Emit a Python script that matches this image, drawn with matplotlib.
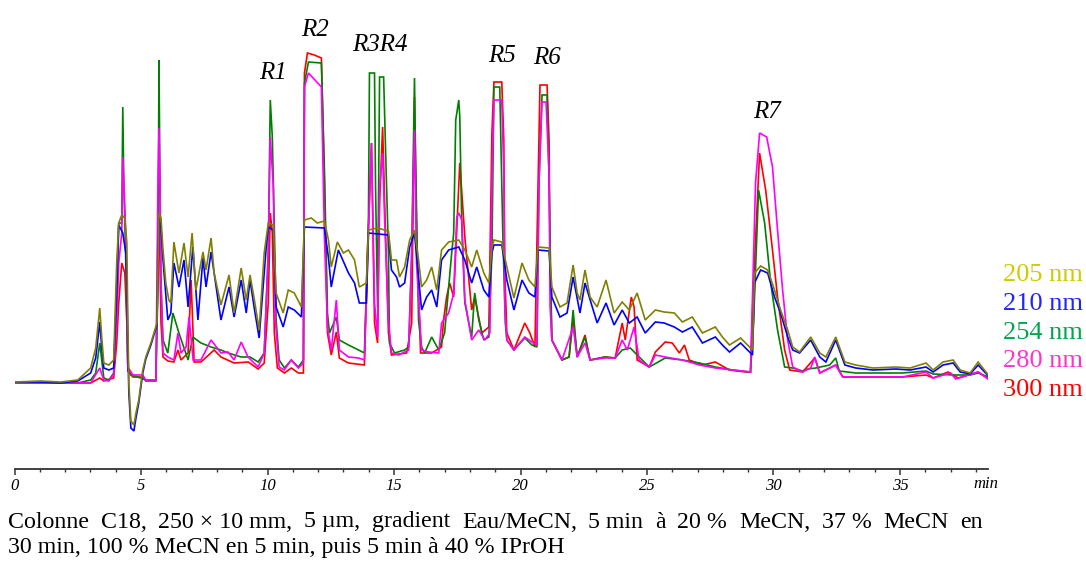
import matplotlib
matplotlib.use("Agg")
import matplotlib.pyplot as plt
from matplotlib.ticker import MultipleLocator

plt.rcParams['font.family'] = ['Liberation Serif', 'DejaVu Serif']

W, H = 1086, 561

# retention time (min), absorbance (arbitrary units, baseline = 0)
s205 = [(0.00, 1), (1.03, 2), (1.82, 1), (2.50, 3), (3.01, 15), (3.21, 35), (3.37, 75), (3.45, 45),
        (3.53, 20), (3.73, 18), (3.92, 23), (4.04, 120), (4.12, 160), (4.24, 168), (4.36, 165),
        (4.44, 140), (4.48, 60), (4.52, 0), (4.60, -38), (4.72, -42), (4.80, -30), (4.91, -17),
        (5.07, 13), (5.19, 26), (5.39, 40), (5.51, 50), (5.63, 60), (5.71, 170), (5.79, 165),
        (5.87, 133), (5.98, 100), (6.10, 83), (6.18, 80), (6.30, 141), (6.50, 110), (6.70, 140),
        (6.86, 106), (7.02, 150), (7.17, 93), (7.45, 131), (7.57, 113), (7.77, 145), (7.89, 110),
        (8.16, 78), (8.48, 108), (8.68, 70), (8.96, 115), (9.16, 83), (9.31, 108), (9.47, 85),
        (9.67, 53), (9.87, 130), (10.03, 160), (10.23, 158), (10.34, 90), (10.62, 70), (10.82, 93),
        (11.06, 90), (11.34, 76), (11.46, 163), (11.73, 165), (11.97, 160), (12.25, 162),
        (12.41, 143), (12.52, 116), (12.76, 141), (13.00, 130), (13.20, 133), (13.44, 123),
        (13.63, 96), (13.91, 100), (13.99, 153), (14.35, 155), (14.78, 152), (14.90, 123),
        (15.10, 123), (15.22, 106), (15.42, 116), (15.62, 143), (15.81, 153), (15.97, 123),
        (16.09, 96), (16.29, 103), (16.49, 116), (16.69, 93), (16.88, 133), (17.16, 141),
        (17.56, 143), (17.80, 133), (18.07, 116), (18.27, 133), (18.55, 110), (18.75, 100),
        (18.87, 135), (18.95, 143), (19.26, 141), (19.34, 130), (19.46, 116), (19.74, 85),
        (20.06, 120), (20.33, 103), (20.57, 96), (20.69, 136), (21.13, 135), (21.24, 96),
        (21.56, 76), (21.84, 80), (22.08, 118), (22.24, 90), (22.35, 83), (22.55, 113),
        (22.75, 86), (23.03, 76), (23.38, 103), (23.70, 70), (24.02, 81), (24.30, 73),
        (24.61, 90), (24.93, 63), (25.33, 73), (25.68, 71), (26.08, 70), (26.40, 61),
        (26.79, 66), (27.19, 50), (27.70, 56), (27.98, 46), (28.26, 38), (28.70, 45),
        (29.17, 33), (29.25, 110), (29.49, 117), (29.77, 113), (30.04, 93), (30.28, 73),
        (30.56, 53), (30.76, 36), (31.03, 31), (31.47, 46), (31.83, 30), (32.07, 26),
        (32.46, 46), (32.82, 21), (33.25, 18), (33.93, 15), (34.84, 16), (35.40, 15),
        (36.03, 20), (36.31, 13), (36.70, 21), (37.10, 23), (37.38, 13), (37.77, 10),
        (38.09, 21), (38.49, 8)]

s210 = [(0.00, 1), (1.03, 1), (1.82, 0), (2.50, 2), (3.01, 10), (3.21, 25), (3.37, 61), (3.45, 35),
        (3.53, 15), (3.73, 13), (3.92, 15), (4.04, 90), (4.12, 158), (4.28, 150), (4.40, 130),
        (4.44, 100), (4.48, 40), (4.52, -10), (4.60, -45), (4.72, -48), (4.80, -35), (4.91, -20),
        (5.07, 10), (5.19, 24), (5.39, 38), (5.51, 48), (5.63, 58), (5.71, 165), (5.79, 155),
        (5.87, 123), (6.06, 63), (6.18, 70), (6.30, 120), (6.50, 96), (6.70, 123), (6.86, 76),
        (7.05, 136), (7.25, 63), (7.45, 125), (7.57, 96), (7.77, 131), (7.97, 96), (8.16, 63),
        (8.48, 96), (8.68, 66), (8.96, 103), (9.16, 70), (9.31, 103), (9.47, 76), (9.67, 45),
        (9.95, 136), (10.03, 156), (10.23, 153), (10.34, 76), (10.62, 56), (10.82, 76),
        (11.06, 73), (11.34, 66), (11.46, 156), (12.25, 155), (12.41, 125), (12.52, 96),
        (12.80, 133), (13.20, 110), (13.44, 100), (13.63, 80), (13.91, 80), (13.99, 150),
        (14.78, 148), (14.90, 113), (15.10, 106), (15.22, 96), (15.42, 100), (15.62, 136),
        (15.81, 150), (16.09, 73), (16.29, 86), (16.49, 93), (16.69, 76), (16.88, 123),
        (17.16, 133), (17.56, 136), (17.80, 123), (18.07, 100), (18.27, 116), (18.55, 93),
        (18.75, 86), (18.87, 130), (18.95, 138), (19.26, 138), (19.34, 125), (19.46, 103),
        (19.74, 73), (20.06, 103), (20.33, 90), (20.57, 86), (20.69, 133), (21.13, 132),
        (21.24, 86), (21.56, 66), (21.84, 70), (22.08, 106), (22.35, 70), (22.55, 100),
        (23.03, 60), (23.38, 80), (23.70, 58), (24.02, 73), (24.30, 60), (24.61, 66),
        (24.93, 50), (25.33, 61), (25.68, 60), (26.08, 56), (26.40, 51), (26.79, 56),
        (27.19, 40), (27.70, 46), (27.98, 38), (28.26, 31), (28.70, 40), (29.17, 28),
        (29.25, 100), (29.49, 113), (29.77, 110), (30.04, 86), (30.28, 70), (30.56, 46),
        (30.76, 33), (31.03, 30), (31.47, 43), (31.83, 26), (32.07, 21), (32.46, 43),
        (32.82, 18), (33.25, 15), (33.93, 13), (34.84, 14), (35.40, 13), (36.03, 16),
        (36.31, 11), (36.70, 18), (37.10, 20), (37.38, 11), (37.77, 9), (38.09, 18), (38.49, 7)]

s254 = [(0.00, 0), (2.50, 0), (3.01, 3), (3.21, 10), (3.37, 40), (3.53, 5), (3.73, 3), (3.92, 10),
        (4.04, 100), (4.12, 160), (4.24, 160), (4.28, 276), (4.32, 200), (4.40, 120), (4.48, 16),
        (4.60, 8), (4.99, 5), (5.19, 3), (5.59, 3), (5.67, 100), (5.71, 323), (5.75, 200),
        (5.79, 100), (5.87, 43), (6.06, 30), (6.26, 70), (6.50, 50), (6.86, 23), (7.05, 46),
        (7.37, 40), (7.77, 36), (8.16, 33), (8.44, 30), (8.96, 26), (9.31, 26), (9.63, 21),
        (9.87, 30), (10.03, 130), (10.11, 283), (10.19, 246), (10.27, 156), (10.34, 63),
        (10.46, 23), (10.67, 15), (10.94, 23), (11.22, 16), (11.42, 23), (11.46, 300),
        (11.62, 321), (12.13, 320), (12.25, 213), (12.37, 70), (12.45, 50), (12.72, 66),
        (12.84, 43), (13.20, 38), (13.60, 33), (13.83, 30), (13.99, 163), (14.03, 310),
        (14.23, 310), (14.27, 196), (14.35, 76), (14.43, 306), (14.59, 306), (14.67, 230),
        (14.78, 130), (14.82, 40), (15.02, 30), (15.42, 33), (15.58, 36), (15.70, 130),
        (15.81, 305), (15.85, 230), (15.97, 63), (16.09, 36), (16.21, 30), (16.49, 46),
        (16.77, 33), (17.00, 50), (17.28, 130), (17.36, 150), (17.44, 263), (17.56, 283),
        (17.60, 266), (17.68, 156), (17.80, 80), (18.07, 46), (18.19, 90), (18.35, 63),
        (18.55, 43), (18.75, 46), (18.87, 130), (18.95, 296), (19.18, 296), (19.30, 150),
        (19.40, 60), (19.46, 43), (19.74, 33), (20.17, 45), (20.45, 38), (20.65, 36),
        (20.73, 200), (20.85, 288), (21.05, 288), (21.13, 200), (21.24, 43), (21.64, 23),
        (21.92, 26), (22.08, 73), (22.24, 26), (22.55, 46), (22.75, 23), (23.34, 26),
        (23.74, 25), (24.02, 33), (24.34, 35), (24.69, 26), (25.09, 16), (25.72, 25),
        (26.40, 23), (27.07, 20), (27.70, 16), (28.38, 13), (29.09, 11), (29.21, 60),
        (29.41, 193), (29.65, 160), (29.89, 100), (30.16, 53), (30.44, 16), (30.76, 15),
        (31.15, 12), (31.35, 14), (31.67, 15), (32.22, 18), (32.46, 25), (32.60, 12),
        (33.25, 10), (33.93, 10), (35.10, 10), (36.03, 12), (36.31, 9), (37.10, 8),
        (37.77, 8), (38.09, 10), (38.49, 6)]

s280 = [(0.00, 0), (2.50, 0), (3.01, 0), (3.37, 15), (3.53, 3), (3.73, 2), (3.92, 9), (4.04, 60),
        (4.12, 120), (4.24, 150), (4.28, 226), (4.32, 200), (4.40, 150), (4.48, 16), (4.68, 8),
        (5.07, 8), (5.19, 3), (5.59, 3), (5.67, 200), (5.71, 255), (5.75, 200), (5.79, 100),
        (5.87, 30), (6.06, 26), (6.30, 23), (6.46, 50), (6.58, 30), (6.78, 36), (6.90, 66),
        (7.06, 23), (7.37, 23), (7.77, 43), (8.16, 30), (8.44, 31), (8.68, 23), (8.96, 41),
        (9.23, 26), (9.63, 16), (9.87, 30), (10.03, 130), (10.11, 246), (10.23, 196),
        (10.31, 63), (10.46, 16), (10.66, 13), (10.94, 23), (11.22, 15), (11.42, 20),
        (11.46, 296), (11.62, 310), (12.13, 296), (12.25, 146), (12.37, 56), (12.52, 33),
        (12.72, 83), (12.84, 33), (13.20, 26), (13.60, 25), (13.83, 23), (13.99, 150),
        (14.11, 240), (14.23, 80), (14.35, 46), (14.43, 196), (14.55, 230), (14.63, 163),
        (14.78, 63), (14.90, 30), (15.18, 28), (15.58, 33), (15.70, 130), (15.81, 253),
        (15.89, 120), (16.09, 33), (16.37, 31), (16.77, 30), (16.88, 60), (17.16, 70),
        (17.36, 90), (17.48, 166), (17.56, 170), (17.68, 163), (17.80, 83), (18.07, 43),
        (18.35, 53), (18.59, 43), (18.79, 50), (18.87, 200), (18.95, 283), (19.26, 283),
        (19.34, 210), (19.38, 76), (19.46, 43), (19.74, 33), (20.17, 46), (20.45, 41),
        (20.65, 38), (20.73, 200), (20.85, 281), (21.01, 281), (21.13, 210), (21.17, 76),
        (21.24, 43), (21.64, 23), (22.08, 56), (22.24, 26), (22.55, 40), (22.75, 23),
        (23.34, 25), (23.74, 25), (24.02, 43), (24.22, 33), (24.49, 56), (24.69, 23),
        (25.09, 16), (25.33, 28), (25.72, 26), (26.40, 23), (27.07, 18), (27.70, 15),
        (28.38, 13), (29.09, 11), (29.29, 200), (29.45, 250), (29.73, 246), (29.96, 216),
        (30.16, 153), (30.36, 93), (30.56, 43), (30.76, 16), (31.15, 11), (31.47, 15),
        (31.63, 26), (31.83, 10), (32.46, 18), (32.74, 6), (33.93, 6), (35.10, 6),
        (36.03, 11), (36.31, 5), (37.00, 10), (37.20, 4), (38.09, 11), (38.49, 4)]

s300 = [(0.00, 0), (2.50, 0), (3.01, 0), (3.37, 5), (3.53, 2), (3.92, 5), (4.04, 40), (4.12, 80),
        (4.24, 120), (4.36, 110), (4.44, 60), (4.48, 12), (4.68, 6), (5.07, 6), (5.19, 2),
        (5.59, 2), (5.67, 150), (5.71, 170), (5.75, 120), (5.79, 60), (5.87, 26), (6.06, 22),
        (6.30, 21), (6.46, 33), (6.58, 23), (6.86, 30), (6.98, 103), (7.10, 21), (7.37, 21),
        (7.89, 33), (8.16, 26), (8.68, 20), (9.24, 21), (9.63, 14), (9.87, 20), (10.03, 80),
        (10.11, 170), (10.19, 150), (10.27, 50), (10.39, 15), (10.67, 10), (10.94, 15),
        (11.22, 10), (11.42, 10), (11.46, 310), (11.58, 330), (11.85, 328), (12.13, 325),
        (12.25, 200), (12.37, 50), (12.52, 28), (12.72, 51), (12.84, 25), (13.20, 20),
        (13.83, 18), (13.95, 130), (14.11, 240), (14.23, 60), (14.35, 40), (14.43, 180),
        (14.55, 256), (14.63, 180), (14.78, 50), (14.90, 28), (15.50, 30), (15.70, 60),
        (15.81, 286), (15.89, 150), (16.05, 30), (16.49, 30), (16.88, 36), (16.96, 63),
        (17.08, 86), (17.20, 100), (17.36, 86), (17.60, 220), (17.80, 146), (18.07, 73),
        (18.19, 86), (18.47, 50), (18.75, 56), (18.87, 250), (18.95, 301), (19.26, 301),
        (19.34, 243), (19.38, 110), (19.46, 50), (19.74, 33), (20.17, 60), (20.37, 50),
        (20.57, 36), (20.73, 250), (20.77, 298), (21.05, 298), (21.13, 243), (21.17, 110),
        (21.24, 43), (21.64, 23), (21.92, 26), (22.08, 63), (22.24, 26), (22.55, 48),
        (22.75, 23), (23.34, 26), (23.74, 25), (24.02, 60), (24.14, 43), (24.38, 86),
        (24.49, 76), (24.61, 23), (25.09, 16), (25.33, 31), (25.72, 41), (26.00, 40),
        (26.28, 30), (26.48, 38), (26.67, 23), (27.19, 18), (27.70, 21), (28.26, 13),
        (28.90, 11), (29.09, 11), (29.21, 100), (29.45, 230), (29.69, 193), (29.96, 133),
        (30.16, 86), (30.44, 33), (30.64, 13), (31.15, 11), (31.63, 25), (31.83, 10),
        (32.46, 18), (32.74, 6), (33.93, 6), (35.10, 6), (36.03, 8), (36.31, 5), (36.90, 11),
        (37.30, 5), (38.09, 11), (38.49, 4)]

peaks = ['R1', 'R2', 'R3R4', 'R5', 'R6', 'R7']
peak_t = [10.22, 11.88, 14.45, 19.26, 21.06, 29.75]
peak_v = [310, 353, 338, 327, 325, 271]

legend_labels = ['205 nm', '210 nm', '254 nm', '280 nm', '300 nm']
legend_colors = ['#cccc00', '#2222ff', '#00a550', '#ff33cc', '#ff0000']

caption1 = ['Colonne', 'C18,', '250 × 10 mm,', '5 µm,', 'gradient', 'Eau/MeCN,', '5 min', 'à',
            '20 %', 'MeCN,', '37 %', 'MeCN', 'en']
caption2 = '30 min, 100 % MeCN en 5 min, puis 5 min à 40 % IPrOH'

# figure / axes placed in pixel terms
fig = plt.figure(figsize=(W / 100, H / 100), dpi=100)
x0, x1 = 14.5, 988
ppm = 25.3  # pixels per minute
y_axis, y_top, y_base = 469, 15, 383
ax = fig.add_axes([x0 / W, (H - y_axis) / H, (x1 - x0) / W, (y_axis - y_top) / H])
ax.set_xlim(0, (x1 - x0) / ppm)
ax.set_ylim(y_base - y_axis, y_base - y_top)

series = [(s300, '#ff0000'), (s254, '#008000'), (s280, '#ff00ff'), (s210, '#0000ff'), (s205, '#808000')]
for data, col in series:
    t = [p[0] for p in data]
    v = [p[1] for p in data]
    ax.plot(t, v, color=col, lw=1.2, solid_joinstyle='miter')

for lab, t, v in zip(peaks, peak_t, peak_v):
    ax.text(t, v, lab, style='italic', fontsize=18, ha='center', va='center')

for s in ['top', 'left', 'right']:
    ax.spines[s].set_visible(False)
ax.spines['bottom'].set_color('#333333')
ax.spines['bottom'].set_linewidth(1.3)
ax.set_yticks([])
ax.xaxis.set_major_locator(MultipleLocator(5))
ax.xaxis.set_minor_locator(MultipleLocator(1))
ax.tick_params(axis='x', which='major', direction='out', length=4, width=1.1, color='#333333',
               pad=2.5, labelsize=12)
ax.tick_params(axis='x', which='minor', direction='out', length=2.5, width=1.0, color='#333333')
for lbl in ax.get_xticklabels():
    lbl.set_fontstyle('italic')
fig.text(973 / W, 1 - 484 / H, 'min', style='italic', fontsize=12, va='center', ha='left')

for i, (lab, col) in enumerate(zip(legend_labels, legend_colors)):
    fig.text(1003 / W, 1 - (275 + 28.8 * i) / H, lab, color=col, fontsize=19, va='center', ha='left')

# caption: fit size to line 2 width, justify line 1
r = fig.canvas.get_renderer()
cap_size = 17
probe = fig.text(0, 0, caption2, fontsize=cap_size)
w2 = probe.get_window_extent(r).width
probe.remove()
cap_size = cap_size * 555 / w2
fig.text(8 / W, 1 - 548 / H, caption2, fontsize=cap_size, va='center', ha='left')

parts = [fig.text(0, 1 - 522 / H, w, fontsize=cap_size, va='center', ha='left') for w in caption1]
widths = [p.get_window_extent(r).width for p in parts]
gap = (983 - 8 - sum(widths)) / (len(parts) - 1)
xpos = 8
for p, w in zip(parts, widths):
    p.set_x(xpos / W)
    xpos += w + gap

fig.savefig('out.png', dpi=100)
